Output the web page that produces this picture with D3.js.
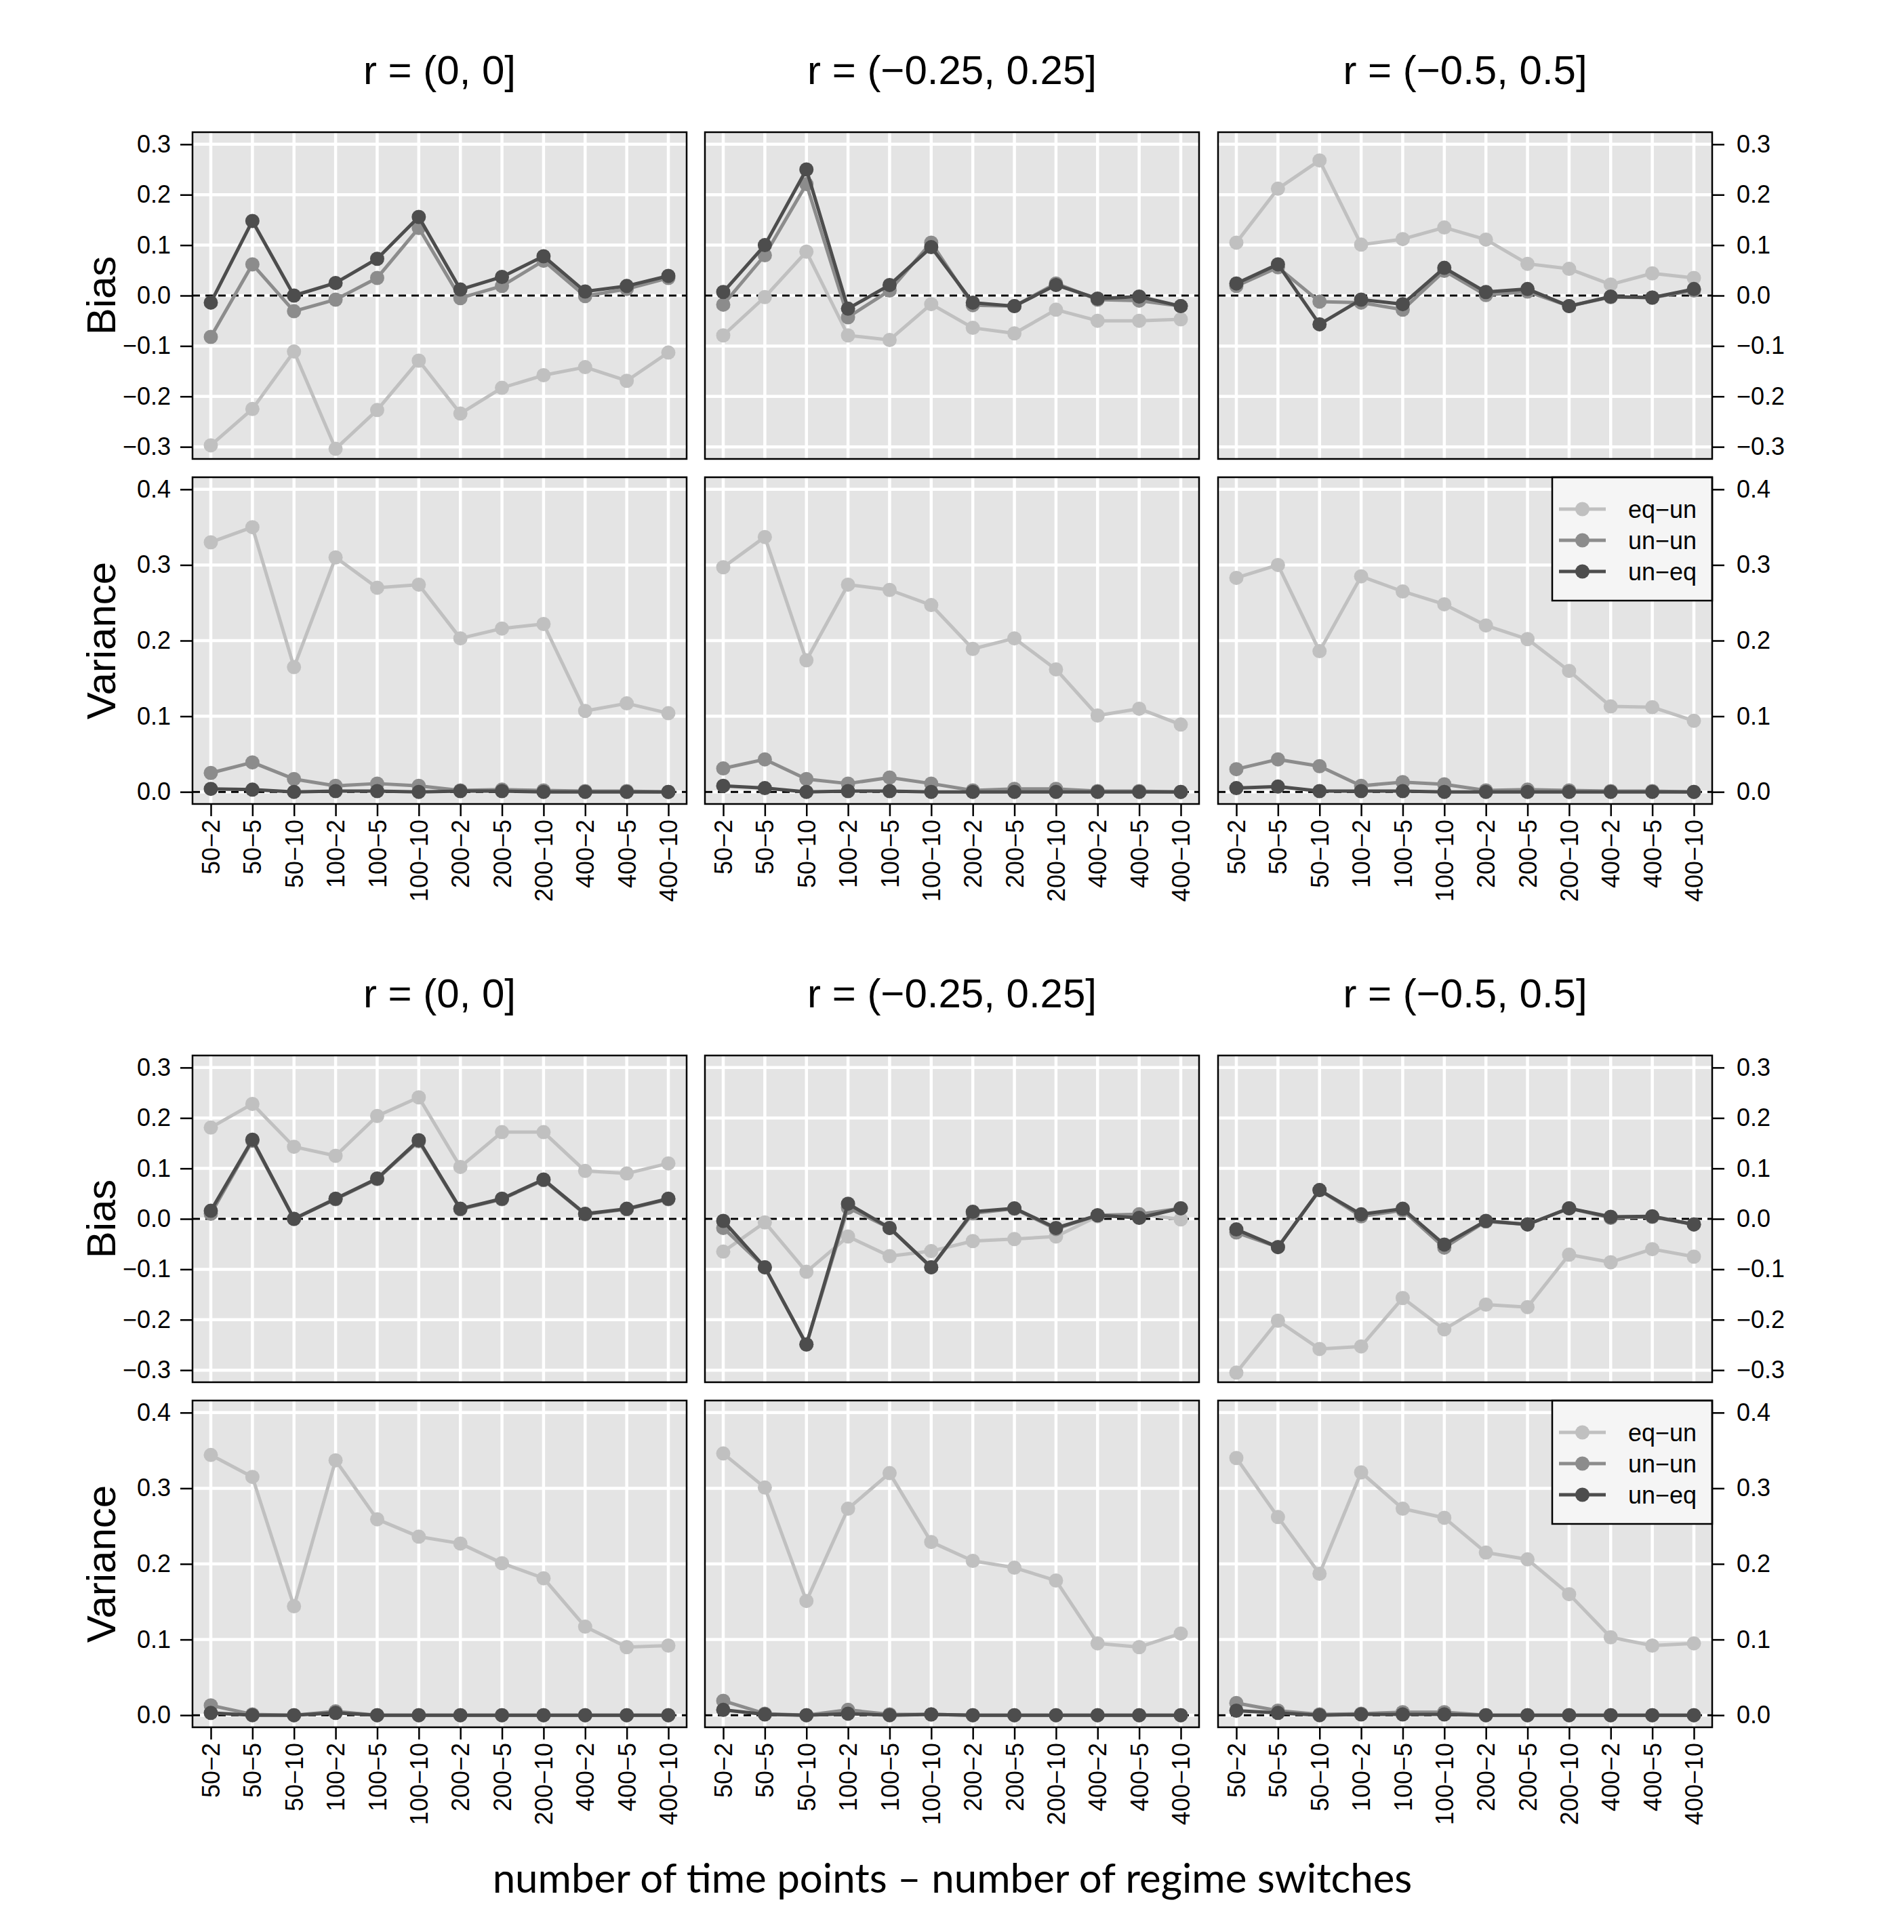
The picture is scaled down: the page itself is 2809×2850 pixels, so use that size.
<!DOCTYPE html>
<html>
<head>
<meta charset="UTF-8">
<title>Bias and variance by regime setting</title>
<script src="https://cdn.jsdelivr.net/npm/d3@7"></script>
<style>
  body { margin: 0; background: #fff; }
  svg text { font-family: "Liberation Sans", Arial, Helvetica, sans-serif; fill: #000; }
</style>
</head>
<body>
<div id="grafica"></div>
<script>
// categories: number of time points - number of regime switches
const cats = ["50−2", "50−5", "50−10", "100−2", "100−5", "100−10",
              "200−2", "200−5", "200−10", "400−2", "400−5", "400−10"]
const seriesNames = ["eq−un", "un−un", "un−eq"]
const seriesColors = ["#c0c0c0", "#8c8c8c", "#4d4d4d"]
const colTitles = ["r = (0, 0]", "r = (−0.25, 0.25]", "r = (−0.5, 0.5]"]
const biasTicks = [-0.3, -0.2, -0.1, 0, 0.1, 0.2, 0.3]
const varTicks = [0, 0.1, 0.2, 0.3, 0.4]

// upper block, each array: [eq-un, un-un, un-eq]
const topBiasR0 = [
  [-0.297, -0.225, -0.111, -0.304, -0.227, -0.129, -0.234, -0.183, -0.158, -0.142, -0.169, -0.113],
  [-0.082, 0.062, -0.031, -0.008, 0.035, 0.134, -0.005, 0.019, 0.069, -0.001, 0.013, 0.035],
  [-0.014, 0.148, 0.000, 0.025, 0.073, 0.156, 0.012, 0.037, 0.078, 0.008, 0.019, 0.039]]
const topBiasR25 = [
  [-0.079, -0.003, 0.087, -0.079, -0.088, -0.017, -0.064, -0.075, -0.028, -0.050, -0.050, -0.047],
  [-0.018, 0.080, 0.221, -0.043, 0.010, 0.105, -0.019, -0.021, 0.024, -0.008, -0.010, -0.021],
  [0.007, 0.100, 0.250, -0.026, 0.021, 0.096, -0.014, -0.021, 0.021, -0.006, -0.002, -0.021]]
const topBiasR50 = [
  [0.105, 0.212, 0.268, 0.101, 0.112, 0.135, 0.111, 0.063, 0.053, 0.022, 0.044, 0.035],
  [0.019, 0.056, -0.012, -0.014, -0.028, 0.049, 0.001, 0.008, -0.021, -0.003, -0.004, 0.010],
  [0.024, 0.062, -0.057, -0.008, -0.017, 0.055, 0.007, 0.013, -0.021, -0.002, -0.004, 0.013]]
const topVarR0 = [
  [0.330, 0.350, 0.165, 0.310, 0.270, 0.274, 0.203, 0.216, 0.222, 0.107, 0.117, 0.104],
  [0.025, 0.039, 0.017, 0.008, 0.011, 0.008, 0.002, 0.003, 0.002, 0.001, 0.001, 0.000],
  [0.004, 0.003, 0.000, 0.001, 0.001, 0.000, 0.001, 0.001, 0.000, 0.000, 0.000, 0.000]]
const topVarR25 = [
  [0.297, 0.337, 0.174, 0.274, 0.267, 0.247, 0.189, 0.203, 0.162, 0.101, 0.110, 0.089],
  [0.031, 0.043, 0.017, 0.011, 0.019, 0.011, 0.002, 0.004, 0.004, 0.001, 0.001, 0.000],
  [0.008, 0.005, 0.000, 0.001, 0.001, 0.000, 0.000, 0.000, 0.000, 0.000, 0.000, 0.000]]
const topVarR50 = [
  [0.283, 0.300, 0.186, 0.285, 0.265, 0.248, 0.220, 0.202, 0.160, 0.113, 0.112, 0.094],
  [0.030, 0.043, 0.034, 0.008, 0.013, 0.010, 0.002, 0.003, 0.002, 0.001, 0.001, 0.000],
  [0.005, 0.007, 0.001, 0.001, 0.001, 0.000, 0.000, 0.000, 0.000, 0.000, 0.000, 0.000]]

// lower block
const botBiasR0 = [
  [0.181, 0.228, 0.143, 0.125, 0.204, 0.241, 0.103, 0.172, 0.172, 0.095, 0.090, 0.110],
  [0.010, 0.155, 0.000, 0.039, 0.079, 0.154, 0.019, 0.039, 0.077, 0.009, 0.019, 0.039],
  [0.016, 0.157, 0.000, 0.040, 0.080, 0.156, 0.020, 0.040, 0.078, 0.010, 0.020, 0.040]]
const botBiasR25 = [
  [-0.065, -0.007, -0.105, -0.035, -0.074, -0.064, -0.044, -0.040, -0.035, 0.005, 0.009, -0.001],
  [-0.018, -0.096, -0.249, 0.022, -0.018, -0.096, 0.011, 0.020, -0.020, 0.007, 0.009, 0.021],
  [-0.004, -0.096, -0.249, 0.030, -0.018, -0.096, 0.014, 0.021, -0.018, 0.007, 0.002, 0.021]]
const botBiasR50 = [
  [-0.305, -0.202, -0.258, -0.253, -0.157, -0.219, -0.170, -0.175, -0.071, -0.086, -0.060, -0.075],
  [-0.027, -0.056, 0.057, 0.005, 0.017, -0.057, -0.005, -0.011, 0.021, 0.002, 0.004, -0.011],
  [-0.021, -0.056, 0.057, 0.009, 0.020, -0.051, -0.004, -0.011, 0.021, 0.004, 0.005, -0.011]]
const botVarR0 = [
  [0.344, 0.315, 0.144, 0.337, 0.259, 0.236, 0.227, 0.201, 0.181, 0.117, 0.090, 0.092],
  [0.013, 0.001, 0.000, 0.005, 0.000, 0.000, 0.000, 0.000, 0.000, 0.000, 0.000, 0.000],
  [0.003, 0.000, 0.000, 0.003, 0.000, 0.000, 0.000, 0.000, 0.000, 0.000, 0.000, 0.000]]
const botVarR25 = [
  [0.346, 0.301, 0.151, 0.273, 0.320, 0.229, 0.204, 0.195, 0.178, 0.095, 0.090, 0.108],
  [0.019, 0.002, 0.000, 0.007, 0.001, 0.001, 0.000, 0.000, 0.000, 0.000, 0.000, 0.000],
  [0.007, 0.001, 0.000, 0.002, 0.000, 0.001, 0.000, 0.000, 0.000, 0.000, 0.000, 0.000]]
const botVarR50 = [
  [0.340, 0.262, 0.187, 0.321, 0.273, 0.261, 0.215, 0.206, 0.160, 0.103, 0.092, 0.095],
  [0.016, 0.006, 0.001, 0.002, 0.004, 0.004, 0.000, 0.000, 0.000, 0.000, 0.000, 0.000],
  [0.006, 0.003, 0.000, 0.001, 0.001, 0.001, 0.000, 0.000, 0.000, 0.000, 0.000, 0.000]]

const W = 2809, H = 2850
const panelX = [284, 1040, 1797]
const panelW = 729, panelH = 482

const svg = d3.select('#grafica').append('svg')
  .attr('width', W).attr('height', H)
  .style('background', '#fff')

const x = d3.scalePoint().domain(cats).range([0, panelW]).padding(0.44)
const yBias = d3.scaleLinear().domain([-0.324, 0.324]).range([panelH, 0])
const yVar = d3.scaleLinear().domain([-0.016, 0.416]).range([panelH, 0])
const fmt = d3.format('.1f')

const blocks = [
  { titleY: 124, biasTop: 195, varTop: 704,
    bias: [topBiasR0, topBiasR25, topBiasR50], vari: [topVarR0, topVarR25, topVarR50] },
  { titleY: 1486, biasTop: 1557, varTop: 2066,
    bias: [botBiasR0, botBiasR25, botBiasR50], vari: [botVarR0, botVarR25, botVarR50] }
]

function panel(left, top, y, ticks, data, opts) {
  const g = svg.append('g').attr('transform', `translate(${left},${top})`)

  g.append('rect').attr('width', panelW).attr('height', panelH).attr('fill', '#e4e4e4')

  // grid
  g.selectAll('.hg').data(ticks).enter().append('line')
    .attr('x1', 0).attr('x2', panelW)
    .attr('y1', d => y(d)).attr('y2', d => y(d))
    .attr('stroke', '#fff').attr('stroke-width', 4.5)
  g.selectAll('.vg').data(cats).enter().append('line')
    .attr('x1', d => x(d)).attr('x2', d => x(d))
    .attr('y1', 0).attr('y2', panelH)
    .attr('stroke', '#fff').attr('stroke-width', 4.5)

  g.append('line')
    .attr('x1', 0).attr('x2', panelW)
    .attr('y1', y(0)).attr('y2', y(0))
    .attr('stroke', '#000').attr('stroke-width', 3)
    .attr('stroke-dasharray', '11,8')

  const line = d3.line().x((d, i) => x(cats[i])).y(d => y(d))
  data.forEach(function(vals, s) {
    g.append('path').datum(vals)
      .attr('d', line)
      .attr('fill', 'none')
      .attr('stroke', seriesColors[s])
      .attr('stroke-width', 5)
      .attr('stroke-linejoin', 'round')
    g.selectAll('.pt' + s).data(vals).enter().append('circle')
      .attr('cx', (d, i) => x(cats[i]))
      .attr('cy', d => y(d))
      .attr('r', 10.5)
      .attr('fill', seriesColors[s])
  })

  if (opts.left) {
    const ax = g.append('g').call(d3.axisLeft(y).tickValues(ticks).tickFormat(fmt).tickSize(18).tickPadding(14))
    styleAxis(ax)
  }
  if (opts.right) {
    const ax = g.append('g').attr('transform', `translate(${panelW},0)`)
      .call(d3.axisRight(y).tickValues(ticks).tickFormat(fmt).tickSize(18).tickPadding(18))
    styleAxis(ax)
  }
  if (opts.bottom) {
    const ax = g.append('g').attr('transform', `translate(0,${panelH})`)
      .call(d3.axisBottom(x).tickSize(18))
    styleAxis(ax)
    ax.selectAll('text')
      .attr('transform', 'rotate(-90)')
      .attr('text-anchor', 'end')
      .attr('x', -23).attr('y', 0).attr('dy', '0.35em')
  }
  if (opts.legend) {
    const lg = g.append('g').attr('transform', 'translate(493,0)')
    lg.append('rect').attr('width', panelW - 493).attr('height', 182)
      .attr('fill', '#f5f5f5').attr('stroke', '#000').attr('stroke-width', 2.5)
    seriesNames.forEach(function(name, s) {
      const yy = 47 + s * 46
      lg.append('line').attr('x1', 10).attr('x2', 79).attr('y1', yy).attr('y2', yy)
        .attr('stroke', seriesColors[s]).attr('stroke-width', 5)
      lg.append('circle').attr('cx', 44.5).attr('cy', yy).attr('r', 10.5).attr('fill', seriesColors[s])
      lg.append('text').attr('x', 112).attr('y', yy).attr('dy', '0.35em')
        .style('font-size', '36px').text(name)
    })
  }

  g.append('rect').attr('width', panelW).attr('height', panelH)
    .attr('fill', 'none').attr('stroke', '#000').attr('stroke-width', 2.5)
}

function styleAxis(ax) {
  ax.select('.domain').remove()
  ax.selectAll('.tick line').attr('stroke', '#000').attr('stroke-width', 2.5)
  ax.selectAll('.tick text').style('font-size', '36px')
    .style('font-family', '"Liberation Sans", Arial, sans-serif').attr('fill', '#000')
}

blocks.forEach(function(b) {
  colTitles.forEach(function(t, c) {
    svg.append('text')
      .attr('x', panelX[c] + panelW / 2).attr('y', b.titleY)
      .attr('text-anchor', 'middle')
      .style('font-size', '60px')
      .text(t)
  })
  for (let c = 0; c < 3; c++) {
    panel(panelX[c], b.biasTop, yBias, biasTicks, b.bias[c], { left: c == 0, right: c == 2 })
    panel(panelX[c], b.varTop, yVar, varTicks, b.vari[c],
          { left: c == 0, right: c == 2, bottom: true, legend: c == 2 })
  }
  svg.append('text')
    .attr('transform', `translate(170,${b.biasTop + panelH / 2}) rotate(-90)`)
    .attr('text-anchor', 'middle').style('font-size', '60px').text('Bias')
  svg.append('text')
    .attr('transform', `translate(170,${b.varTop + panelH / 2}) rotate(-90)`)
    .attr('text-anchor', 'middle').style('font-size', '60px').text('Variance')
})

svg.append('text')
  .attr('x', (panelX[0] + panelX[2] + panelW) / 2).attr('y', 2792)
  .attr('text-anchor', 'middle')
  .style('font-family', 'Lato, "Open Sans", sans-serif')
  .style('font-size', '60px')
  .text('number of time points – number of regime switches')
</script>
</body>
</html>
